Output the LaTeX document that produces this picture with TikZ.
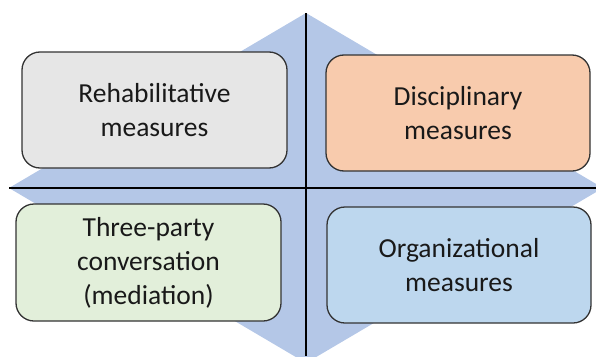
\documentclass[tikz,border=0pt]{standalone}
\usepackage{fontspec}
\setmainfont{Carlito}
\usepackage{xcolor}
\usepackage{tikz}
\usetikzlibrary{positioning}

\definecolor{matrixblue}{HTML}{B4C7E7}
\definecolor{boxline}{HTML}{333333}
\definecolor{greyfill}{HTML}{E6E6E6}
\definecolor{orangefill}{HTML}{F8CBAD}
\definecolor{greenfill}{HTML}{E2EFDA}
\definecolor{bluefill}{HTML}{BDD7EE}

\begin{document}
\begin{tikzpicture}[x=1pt, y=-1pt,
  quadbox/.style={draw=boxline, line width=1.3pt, rounded corners=18pt,
    minimum width=265pt, minimum height=116pt, inner sep=0pt, align=center,
    text=black!90, font=\fontsize{27.5}{34}\selectfont},
  axis/.style={line width=1.4pt, black}]
\useasboundingbox (0,0) rectangle (596,356);
% diamond behind the four boxes
\coordinate (top) at (306,13);
\coordinate (right) at (603,188);
\coordinate (bottom) at (306,363);
\coordinate (left) at (9,188);
\fill[matrixblue] (top) -- (right) -- (bottom) -- (left) -- cycle;
\coordinate (rightend) at (596,188);
\coordinate (bottomend) at (306,356);
\draw[axis] (top) -- (bottomend);
\draw[axis] (left) -- (rightend);
% quadrants
\node[quadbox, fill=greyfill] (rehab) at (154.5,110) {Rehabilitative\\measures};
\node[quadbox, fill=orangefill, minimum width=264pt] (discip) at (458,113) {Disciplinary\\measures};
\node[quadbox, fill=greenfill, minimum height=117pt] (mediation) at (148.5,262.5) {Three-party\\conversation\\(mediation)};
\node[quadbox, fill=bluefill, minimum width=264pt] (organiz) at (459,265) {Organizational\\measures};
\end{tikzpicture}
\end{document}
